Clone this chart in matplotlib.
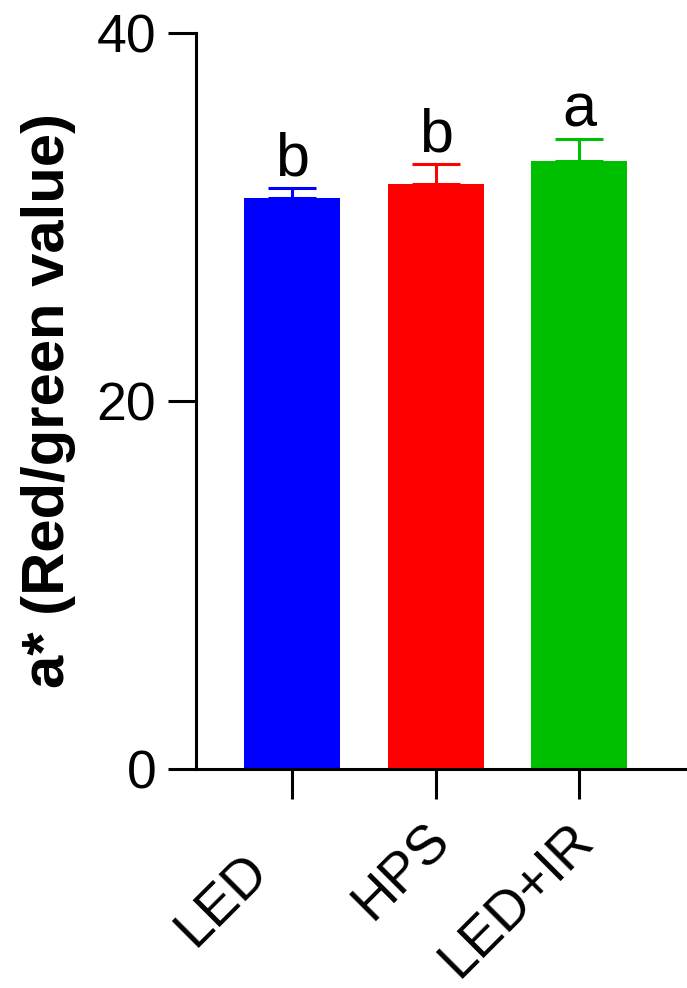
import matplotlib
matplotlib.use("Agg")
import matplotlib.pyplot as plt
import matplotlib.transforms as mtransforms

categories = ["LED", "HPS", "LED+IR"]
means = [31.04, 31.80, 33.05]
errors = [0.53, 1.07, 1.15]
letters = ["b", "b", "a"]
colors = ["#0000FF", "#FF0000", "#00BF00"]
yticks = [0, 20, 40]

plt.rcParams["font.family"] = ["Liberation Sans", "DejaVu Sans"]

fig = plt.figure(figsize=(6.87, 9.88), dpi=100)
ax = fig.add_axes([0.2853, 0.2220, 1.0 - 0.2853, 0.9669 - 0.2220])

x = list(range(len(categories)))
ax.bar(x, means, width=0.67, color=colors, zorder=2)
for xi, m, e, c in zip(x, means, errors, colors):
    ax.errorbar(xi, m, yerr=[[0], [e]], fmt="none", ecolor=c, elinewidth=2.2,
                capsize=17.3, capthick=2.2, zorder=3)
for xi, m, e, t in zip(x, means, errors, letters):
    ax.annotate(t, xy=(xi, m + e), xytext=(0, 9), textcoords="offset points",
                ha="center", va="baseline", fontsize=44)

ax.set_xlim(-0.671, 2.753)
ax.set_ylim(0, 40)
ax.set_yticks(yticks)
ax.set_yticklabels([str(v) for v in yticks], fontsize=38.5)
ax.set_xticks(x)
ax.set_xticklabels(categories, fontsize=39.5, rotation=45, ha="right",
                   va="center", rotation_mode="anchor")

for s in ["top", "right"]:
    ax.spines[s].set_visible(False)
for s in ["left", "bottom"]:
    ax.spines[s].set_linewidth(2.2)
ax.tick_params(axis="y", length=20, width=2.2, pad=8.6)
ax.tick_params(axis="x", length=21.6, width=2.2, pad=24)

# shift labels slightly; the first one sits further back along its direction
for i, lbl in enumerate(ax.get_xticklabels()):
    dx, dy = (0.06, 0.0) if i > 0 else (-0.32, -0.31)
    lbl.set_transform(lbl.get_transform() +
                      mtransforms.ScaledTranslation(dx, dy, fig.dpi_scale_trans))

ax.set_ylabel("a* (Red/green value)", fontsize=43, fontweight="bold")
ax.yaxis.set_label_coords(-0.245, 0.5)

fig.savefig("out.png", dpi=100)
